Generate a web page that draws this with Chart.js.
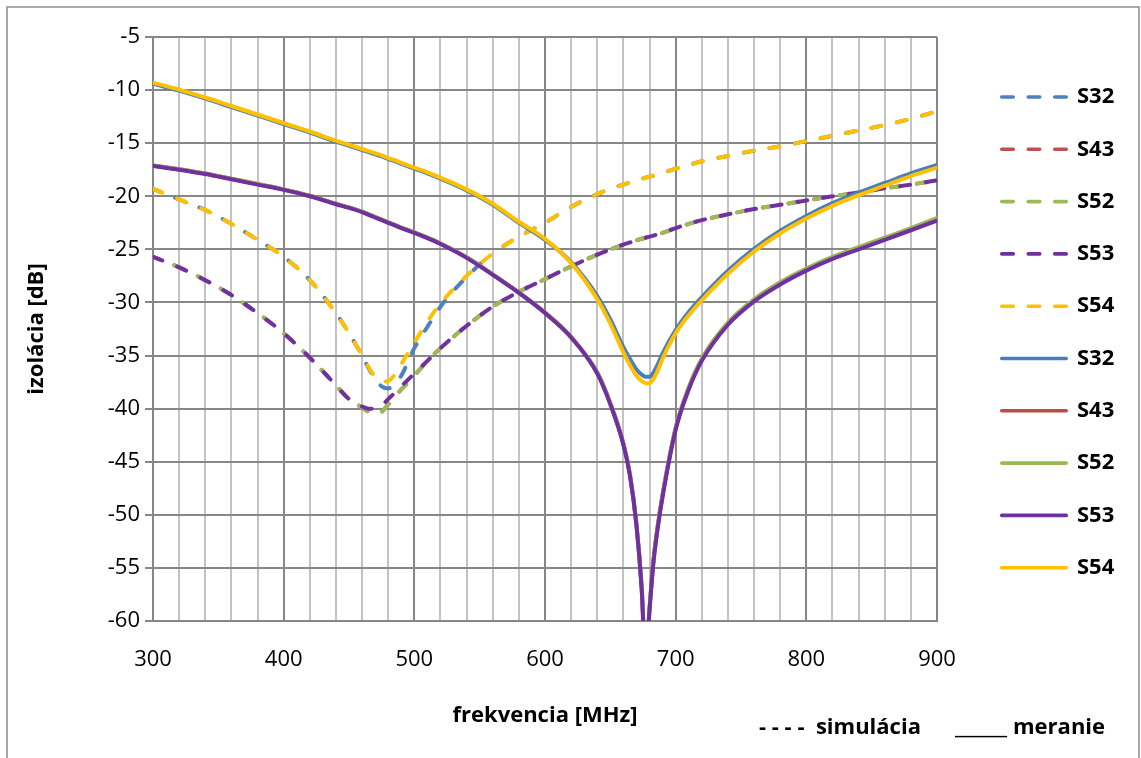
<!DOCTYPE html>
<html><head><meta charset="utf-8">
<script src="https://cdn.jsdelivr.net/npm/chart.js@4.4.1/dist/chart.umd.min.js"></script>
<style>html,body{margin:0;padding:0;background:#fff;} #wrap{position:relative;width:1141px;height:758px;background:#fff;}</style>
</head><body><div id="wrap"><canvas id="c" width="1141" height="758"></canvas></div>
<script>
// ---- data ----
const freq = [300,320,340,360,380,400,420,440,450,460,465,470,475,480,485,490,500,510,520,540,560,580,600,620,640,650,660,665,670,674,677,680,683,686,690,700,710,720,740,760,780,800,820,840,860,880,900];

const simS32 = [-19.3,-20.3,-21.3,-22.6,-24.1,-25.7,-27.9,-31.0,-32.9,-35.0,-36.2,-37.2,-37.9,-38.1,-37.7,-36.9,-34.3,-32.3,-30.4,-27.6,-25.4,-23.8,-22.5,-21.0,-19.8,-19.3,-18.9,-18.7,-18.5,-18.35,-18.25,-18.15,-18.05,-17.95,-17.8,-17.4,-17.05,-16.7,-16.2,-15.7,-15.3,-14.8,-14.3,-13.8,-13.3,-12.7,-12.0];
const simS43 = [-25.7,-26.7,-27.9,-29.3,-31.0,-32.9,-35.2,-37.8,-39.1,-39.9,-40.3,-40.5,-40.3,-39.6,-38.9,-38.2,-36.9,-35.5,-34.3,-32.2,-30.4,-29.0,-27.8,-26.6,-25.5,-25.0,-24.55,-24.35,-24.15,-24.0,-23.9,-23.8,-23.7,-23.6,-23.45,-23.0,-22.6,-22.25,-21.7,-21.2,-20.8,-20.4,-20.0,-19.65,-19.25,-18.9,-18.5];
const simS52 = [-25.7,-26.7,-27.9,-29.3,-31.0,-32.9,-35.2,-37.8,-39.1,-39.9,-40.3,-40.5,-40.3,-39.6,-38.9,-38.2,-36.9,-35.5,-34.3,-32.2,-30.4,-29.0,-27.8,-26.6,-25.5,-25.0,-24.55,-24.35,-24.15,-24.0,-23.9,-23.8,-23.7,-23.6,-23.45,-23.0,-22.6,-22.25,-21.7,-21.2,-20.8,-20.4,-20.0,-19.65,-19.25,-18.9,-18.5];
const simS53 = [-25.7,-26.7,-27.9,-29.3,-31.0,-32.9,-35.2,-37.8,-39.1,-39.8,-40.0,-40.0,-39.7,-39.1,-38.5,-37.9,-36.7,-35.5,-34.3,-32.2,-30.4,-29.0,-27.8,-26.6,-25.5,-25.0,-24.55,-24.35,-24.15,-24.0,-23.9,-23.8,-23.7,-23.6,-23.45,-23.0,-22.6,-22.25,-21.7,-21.2,-20.8,-20.4,-20.0,-19.65,-19.25,-18.9,-18.5];
const simS54 = [-19.3,-20.3,-21.3,-22.6,-24.1,-25.7,-27.9,-31.0,-32.9,-35.0,-36.1,-37.0,-37.45,-37.4,-36.8,-35.8,-33.8,-31.8,-30.1,-27.5,-25.4,-23.8,-22.5,-21.0,-19.8,-19.3,-18.9,-18.7,-18.5,-18.35,-18.25,-18.15,-18.05,-17.95,-17.8,-17.4,-17.05,-16.7,-16.2,-15.7,-15.3,-14.8,-14.3,-13.8,-13.3,-12.7,-12.0];

const measS32 = [-9.4,-10.05,-10.8,-11.6,-12.4,-13.2,-14.0,-14.85,-15.25,-15.65,-15.85,-16.05,-16.25,-16.5,-16.7,-16.95,-17.4,-17.85,-18.35,-19.45,-20.8,-22.5,-24.1,-26.2,-29.4,-31.6,-34.2,-35.3,-36.3,-36.8,-37.0,-37.0,-36.6,-35.9,-34.8,-32.6,-30.9,-29.5,-27.0,-24.95,-23.25,-21.85,-20.65,-19.65,-18.75,-17.85,-17.05];
const measS43 = [-17.1,-17.45,-17.85,-18.35,-18.85,-19.35,-19.95,-20.7,-21.05,-21.45,-21.7,-21.95,-22.2,-22.45,-22.7,-22.95,-23.4,-23.9,-24.45,-25.75,-27.35,-29.05,-30.95,-33.25,-36.6,-39.5,-43.3,-46.2,-50.9,-56.9,-63.8,-58.8,-54.3,-51.3,-48.1,-41.85,-38.05,-35.35,-31.95,-29.75,-28.15,-26.85,-25.75,-24.85,-23.95,-23.05,-22.1];
const measS52 = [-17.1,-17.45,-17.85,-18.35,-18.85,-19.35,-19.95,-20.7,-21.05,-21.45,-21.7,-21.95,-22.2,-22.45,-22.7,-22.95,-23.4,-23.9,-24.45,-25.75,-27.35,-29.05,-30.95,-33.25,-36.6,-39.5,-43.3,-46.2,-50.9,-56.9,-63.8,-58.8,-54.3,-51.3,-48.1,-41.8,-38.0,-35.3,-31.9,-29.7,-28.1,-26.8,-25.7,-24.8,-23.9,-23.0,-22.05];
const measS53 = [-17.15,-17.5,-17.9,-18.4,-18.9,-19.4,-20.0,-20.75,-21.1,-21.5,-21.75,-22.0,-22.25,-22.5,-22.75,-23.0,-23.45,-23.95,-24.5,-25.8,-27.4,-29.1,-31.0,-33.3,-36.7,-39.6,-43.4,-46.3,-51.0,-57.0,-64.0,-59.0,-54.5,-51.5,-48.3,-42.0,-38.2,-35.5,-32.1,-29.9,-28.3,-27.0,-25.9,-25.0,-24.1,-23.2,-22.3];
const measS54 = [-9.3,-9.95,-10.7,-11.5,-12.3,-13.1,-13.9,-14.75,-15.15,-15.55,-15.75,-15.95,-16.15,-16.4,-16.6,-16.85,-17.3,-17.75,-18.25,-19.35,-20.7,-22.4,-24.0,-26.3,-29.7,-32.0,-34.7,-35.9,-36.9,-37.4,-37.6,-37.6,-37.2,-36.5,-35.3,-32.9,-31.2,-29.8,-27.3,-25.2,-23.5,-22.1,-20.9,-19.9,-19.0,-18.1,-17.3];

const seriesNames = ['S32','S43','S52','S53','S54'];
const xMin = 300, xMax = 900, xStep = 20, xLabelStep = 100;
const yMin = -60, yMax = -5, yStep = 5;
const xTitle = 'frekvencia [MHz]';
const yTitle = 'izolácia [dB]';
const noteSim = '- - - -  simulácia';
const noteMeas = '____ meranie';

// ---- styles ----
const simColors  = ['#4F81BD','#C0504D','#9BBB59','#7030A0','#FFC000'];
const measColors = ['#4A7EBB','#BE4B48','#98B954','#7030A0','#FFC000'];
const simOffsetsLeft  = [2, 3, 3, 0, 0];
const simOffsetsRight = [13, 3, 3, 0, 0];
const FONT = 'Open Sans';
const MAJOR = '#878787', MINOR = '#c3c3c3';

const simData = [simS32, simS43, simS52, simS53, simS54];
const measData = [measS32, measS43, measS52, measS53, measS54];
const toPts = arr => freq.map((f, i) => ({x: f, y: arr[i]}));

const datasets = [];
seriesNames.forEach((n, i) => datasets.push({
  label: n, data: toPts(simData[i]), borderColor: simColors[i], backgroundColor: simColors[i],
  borderDash: [10, 16], borderDashOffset: simOffsetsLeft[i],
  segment: {
    borderDash: () => [10, 16],
    borderDashOffset: c => (c.p0.parsed.x < 560 ? simOffsetsLeft[i] : simOffsetsRight[i])
  }
}));
seriesNames.forEach((n, i) => datasets.push({
  label: n, data: toPts(measData[i]), borderColor: measColors[i], backgroundColor: measColors[i]
}));
datasets.forEach((d, i) => { d.order = datasets.length - 1 - i; });

const decor = {
  id: 'decor',
  afterDraw(chart) {
    const ctx = chart.ctx;
    ctx.save();
    ctx.strokeStyle = '#8c8c8c'; ctx.lineWidth = 1.5;
    ctx.beginPath(); ctx.moveTo(7, 790); ctx.lineTo(7, 7); ctx.lineTo(1139, 7); ctx.lineTo(1139, 790); ctx.stroke();
    ctx.font = 'bold 22px "' + FONT + '"';
    ctx.textBaseline = 'middle'; ctx.textAlign = 'left';
    chart.data.datasets.forEach((ds, i) => {
      const y = 97 + i * 52.3;
      ctx.beginPath();
      ctx.lineWidth = 3.6; ctx.lineCap = 'round'; ctx.strokeStyle = ds.borderColor;
      ctx.setLineDash(ds.borderDash ? [11.5, 15] : []);
      ctx.moveTo(1001.75, y); ctx.lineTo(1066.25, y); ctx.stroke();
      ctx.setLineDash([]);
      ctx.fillStyle = '#000';
      ctx.fillText(ds.label, 1077, y);
    });
    ctx.fillStyle = '#000';
    ctx.fillText(noteSim, 759, 728);
    const parts = noteMeas.split(' ');
    const uw = ctx.measureText(parts[0]).width;
    ctx.save();
    ctx.translate(955, 728);
    ctx.scale(52 / uw, 1);
    ctx.fillText(parts[0], 0, 0);
    ctx.restore();
    ctx.fillText(parts.slice(1).join(' '), 1013, 728);
    ctx.restore();
  }
};

new Chart(document.getElementById('c'), {
  type: 'line',
  data: {datasets},
  options: {
    responsive: false, animation: false, devicePixelRatio: 1,
    layout: {padding: {left: 0, top: 37, right: 204, bottom: 0}},
    plugins: {legend: {display: false}, tooltip: {enabled: false}, title: {display: false}},
    elements: {
      point: {radius: 0, hoverRadius: 0},
      line: {borderWidth: 4, cubicInterpolationMode: 'monotone', borderCapStyle: 'round', borderJoinStyle: 'round', fill: false}
    },
    scales: {
      x: {
        type: 'linear', min: xMin, max: xMax,
        afterFit(s) { s.height = 137; },
        ticks: {stepSize: xStep, autoSkip: false, maxRotation: 0, minRotation: 0, padding: 26, color: '#000',
                font: {family: FONT, size: 22},
                callback: v => (v % xLabelStep === 0 ? String(v) : '')},
        grid: {drawTicks: false, lineWidth: 2, color: c => (c.tick && c.tick.value % xLabelStep === 0 ? MAJOR : MINOR)},
        border: {color: MAJOR, width: 2},
        title: {display: true, text: xTitle, color: '#000', font: {family: FONT, size: 22, weight: 'bold'}, padding: {top: 0, bottom: 29}}
      },
      y: {
        type: 'linear', min: yMin, max: yMax,
        afterFit(s) { s.width = 153; },
        ticks: {stepSize: yStep, padding: 5, color: '#000', font: {family: FONT, size: 22}},
        grid: {color: MAJOR, lineWidth: 2, drawTicks: true, tickLength: 8, tickColor: MAJOR},
        border: {color: MAJOR, width: 2},
        title: {display: true, text: yTitle, color: '#000', font: {family: FONT, size: 22, weight: 'bold'}, padding: {top: 24, bottom: 0}}
      }
    }
  },
  plugins: [decor]
});
</script>
</body></html>
